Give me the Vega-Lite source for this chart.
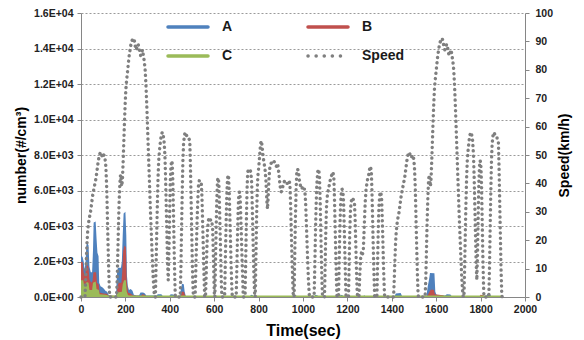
{
  "$schema": "https://vega.github.io/schema/vega-lite/v6.json",
  "width": 444,
  "height": 284,
  "autosize": {"type": "none"},
  "padding": {"left": 81, "top": 13, "right": 59, "bottom": 43},
  "background": "white",
  "config": {
    "view": {"stroke": null},
    "axis": {
      "domainColor": "#868686", "tickColor": "#868686", "tickSize": 4, "domainWidth": 1,
      "labelFont": "Liberation Sans", "labelFontSize": 10.5, "labelFontWeight": "bold", "labelColor": "#222222",
      "titleFont": "Liberation Sans", "titleFontWeight": "bold", "titleColor": "#000000", "titleFontSize": 14,
      "gridColor": "#9a9a9a", "gridDash": [2, 2], "gridWidth": 1, "labelOverlap": false
    }
  },
  "datasets": {
    "particles": [
      {"t":0,"s":"A","n":2300},{"t":7,"s":"A","n":2270},{"t":12,"s":"A","n":2000},{"t":16,"s":"A","n":1550},{"t":20,"s":"A","n":1900},{"t":24,"s":"A","n":2900},{"t":29,"s":"A","n":3050},{"t":34,"s":"A","n":2900},{"t":38,"s":"A","n":1700},{"t":44,"s":"A","n":1400},{"t":50,"s":"A","n":1400},{"t":54,"s":"A","n":2600},{"t":57,"s":"A","n":4200},{"t":66,"s":"A","n":4250},{"t":70,"s":"A","n":3300},{"t":74,"s":"A","n":2500},{"t":79,"s":"A","n":2300},{"t":82,"s":"A","n":800},{"t":88,"s":"A","n":600},{"t":96,"s":"A","n":550},{"t":104,"s":"A","n":450},{"t":110,"s":"A","n":350},{"t":118,"s":"A","n":300},{"t":124,"s":"A","n":120},{"t":132,"s":"A","n":80},{"t":150,"s":"A","n":60},{"t":158,"s":"A","n":80},{"t":162,"s":"A","n":1300},{"t":166,"s":"A","n":1650},{"t":180,"s":"A","n":1650},{"t":184,"s":"A","n":2000},{"t":188,"s":"A","n":3500},{"t":192,"s":"A","n":4700},{"t":200,"s":"A","n":4800},{"t":204,"s":"A","n":3500},{"t":207,"s":"A","n":1200},{"t":211,"s":"A","n":600},{"t":216,"s":"A","n":400},{"t":224,"s":"A","n":450},{"t":232,"s":"A","n":350},{"t":238,"s":"A","n":120},{"t":250,"s":"A","n":80},{"t":262,"s":"A","n":100},{"t":268,"s":"A","n":250},{"t":280,"s":"A","n":260},{"t":288,"s":"A","n":200},{"t":294,"s":"A","n":80},{"t":340,"s":"A","n":80},{"t":346,"s":"A","n":150},{"t":362,"s":"A","n":150},{"t":368,"s":"A","n":60},{"t":398,"s":"A","n":60},{"t":404,"s":"A","n":150},{"t":416,"s":"A","n":140},{"t":424,"s":"A","n":60},{"t":446,"s":"A","n":60},{"t":450,"s":"A","n":450},{"t":455,"s":"A","n":750},{"t":463,"s":"A","n":720},{"t":467,"s":"A","n":300},{"t":472,"s":"A","n":60},{"t":510,"s":"A","n":30},{"t":760,"s":"A","n":30},{"t":766,"s":"A","n":120},{"t":774,"s":"A","n":100},{"t":780,"s":"A","n":30},{"t":950,"s":"A","n":30},{"t":956,"s":"A","n":120},{"t":968,"s":"A","n":100},{"t":974,"s":"A","n":30},{"t":1050,"s":"A","n":30},{"t":1056,"s":"A","n":120},{"t":1066,"s":"A","n":80},{"t":1072,"s":"A","n":30},{"t":1165,"s":"A","n":30},{"t":1170,"s":"A","n":120},{"t":1178,"s":"A","n":100},{"t":1184,"s":"A","n":30},{"t":1270,"s":"A","n":30},{"t":1276,"s":"A","n":100},{"t":1282,"s":"A","n":30},{"t":1412,"s":"A","n":30},{"t":1418,"s":"A","n":200},{"t":1440,"s":"A","n":220},{"t":1446,"s":"A","n":60},{"t":1556,"s":"A","n":60},{"t":1562,"s":"A","n":600},{"t":1568,"s":"A","n":1000},{"t":1572,"s":"A","n":1350},{"t":1592,"s":"A","n":1340},{"t":1596,"s":"A","n":300},{"t":1602,"s":"A","n":100},{"t":1640,"s":"A","n":80},{"t":1648,"s":"A","n":150},{"t":1664,"s":"A","n":140},{"t":1670,"s":"A","n":40},{"t":1825,"s":"A","n":40},{"t":1830,"s":"A","n":170},{"t":1842,"s":"A","n":150},{"t":1848,"s":"A","n":40},{"t":1900,"s":"A","n":30},
      {"t":0,"s":"B","n":2000},{"t":8,"s":"B","n":1950},{"t":12,"s":"B","n":1400},{"t":18,"s":"B","n":1150},{"t":22,"s":"B","n":1500},{"t":26,"s":"B","n":1800},{"t":33,"s":"B","n":1750},{"t":38,"s":"B","n":1000},{"t":46,"s":"B","n":800},{"t":52,"s":"B","n":900},{"t":56,"s":"B","n":1400},{"t":68,"s":"B","n":1400},{"t":72,"s":"B","n":800},{"t":80,"s":"B","n":700},{"t":84,"s":"B","n":250},{"t":100,"s":"B","n":200},{"t":116,"s":"B","n":180},{"t":124,"s":"B","n":80},{"t":160,"s":"B","n":60},{"t":164,"s":"B","n":600},{"t":170,"s":"B","n":800},{"t":182,"s":"B","n":800},{"t":186,"s":"B","n":1500},{"t":190,"s":"B","n":2600},{"t":196,"s":"B","n":2900},{"t":202,"s":"B","n":2800},{"t":206,"s":"B","n":900},{"t":212,"s":"B","n":250},{"t":222,"s":"B","n":200},{"t":236,"s":"B","n":80},{"t":270,"s":"B","n":60},{"t":276,"s":"B","n":150},{"t":286,"s":"B","n":120},{"t":292,"s":"B","n":50},{"t":450,"s":"B","n":50},{"t":454,"s":"B","n":300},{"t":464,"s":"B","n":300},{"t":470,"s":"B","n":50},{"t":1560,"s":"B","n":50},{"t":1572,"s":"B","n":350},{"t":1578,"s":"B","n":420},{"t":1590,"s":"B","n":400},{"t":1594,"s":"B","n":150},{"t":1630,"s":"B","n":100},{"t":1640,"s":"B","n":40},{"t":1795,"s":"B","n":40},{"t":1800,"s":"B","n":120},{"t":1812,"s":"B","n":100},{"t":1818,"s":"B","n":40},{"t":1900,"s":"B","n":30},
      {"t":0,"s":"C","n":950},{"t":10,"s":"C","n":950},{"t":14,"s":"C","n":650},{"t":20,"s":"C","n":700},{"t":26,"s":"C","n":850},{"t":34,"s":"C","n":800},{"t":38,"s":"C","n":400},{"t":50,"s":"C","n":400},{"t":54,"s":"C","n":800},{"t":66,"s":"C","n":870},{"t":70,"s":"C","n":450},{"t":80,"s":"C","n":400},{"t":84,"s":"C","n":150},{"t":110,"s":"C","n":120},{"t":124,"s":"C","n":80},{"t":160,"s":"C","n":80},{"t":164,"s":"C","n":250},{"t":184,"s":"C","n":300},{"t":188,"s":"C","n":700},{"t":194,"s":"C","n":950},{"t":202,"s":"C","n":950},{"t":206,"s":"C","n":300},{"t":212,"s":"C","n":100},{"t":220,"s":"C","n":80},{"t":1900,"s":"C","n":80}
    ],
    "speed": [
      {"t":0,"v":0},{"t":18,"v":0},{"t":21,"v":6},{"t":24,"v":13},{"t":27,"v":19},{"t":30,"v":23},{"t":34,"v":26},{"t":38,"v":28},{"t":43,"v":30},{"t":48,"v":33},{"t":53,"v":36},{"t":58,"v":38},{"t":63,"v":40},{"t":68,"v":42},{"t":73,"v":45},{"t":78,"v":48},{"t":83,"v":50},{"t":88,"v":51},{"t":93,"v":50},{"t":98,"v":49},{"t":103,"v":50},{"t":108,"v":49},{"t":112,"v":46},{"t":116,"v":38},{"t":119,"v":28},{"t":122,"v":18},{"t":125,"v":9},{"t":128,"v":2},{"t":130,"v":0},
      {"t":160,"v":0},{"t":163,"v":6},{"t":166,"v":16},{"t":169,"v":26},{"t":172,"v":34},{"t":175,"v":40},{"t":178,"v":43},{"t":181,"v":41},{"t":184,"v":39},{"t":187,"v":42},{"t":190,"v":48},{"t":193,"v":55},{"t":196,"v":62},{"t":199,"v":68},{"t":202,"v":73},{"t":205,"v":76},{"t":209,"v":79},{"t":213,"v":82},{"t":217,"v":85},{"t":221,"v":87},{"t":225,"v":89},{"t":229,"v":90},{"t":233,"v":91},{"t":237,"v":91},{"t":241,"v":90},{"t":245,"v":88},{"t":249,"v":87},{"t":253,"v":88},{"t":257,"v":89},{"t":261,"v":88},{"t":265,"v":86},{"t":269,"v":85},{"t":273,"v":86},{"t":277,"v":87},{"t":281,"v":85},{"t":285,"v":83},{"t":289,"v":80},{"t":293,"v":74},{"t":297,"v":66},{"t":301,"v":57},{"t":305,"v":48},{"t":309,"v":39},{"t":313,"v":30},{"t":317,"v":22},{"t":321,"v":14},{"t":325,"v":7},{"t":329,"v":2},{"t":332,"v":0},
      {"t":335,"v":0},{"t":338,"v":10},{"t":341,"v":22},{"t":344,"v":33},{"t":347,"v":42},{"t":350,"v":48},{"t":354,"v":52},{"t":358,"v":55},{"t":362,"v":57},{"t":366,"v":58},{"t":370,"v":57},{"t":374,"v":55},{"t":378,"v":50},{"t":381,"v":42},{"t":384,"v":32},{"t":387,"v":22},{"t":390,"v":12},{"t":393,"v":6},{"t":396,"v":15},{"t":399,"v":28},{"t":402,"v":40},{"t":405,"v":46},{"t":408,"v":48},{"t":411,"v":47},{"t":414,"v":40},{"t":417,"v":28},{"t":420,"v":15},{"t":423,"v":5},{"t":425,"v":0},
      {"t":447,"v":0},{"t":450,"v":10},{"t":453,"v":24},{"t":456,"v":37},{"t":459,"v":48},{"t":462,"v":54},{"t":466,"v":57},{"t":470,"v":58},{"t":475,"v":57},{"t":480,"v":56},{"t":485,"v":56},{"t":490,"v":55},{"t":493,"v":46},{"t":496,"v":34},{"t":499,"v":22},{"t":502,"v":10},{"t":505,"v":2},{"t":507,"v":0},
      {"t":514,"v":0},{"t":517,"v":9},{"t":520,"v":18},{"t":523,"v":27},{"t":526,"v":34},{"t":529,"v":39},{"t":533,"v":41},{"t":538,"v":41},{"t":542,"v":40},{"t":545,"v":35},{"t":548,"v":26},{"t":551,"v":17},{"t":554,"v":8},{"t":557,"v":0},
      {"t":561,"v":0},{"t":564,"v":8},{"t":567,"v":17},{"t":570,"v":24},{"t":574,"v":27},{"t":579,"v":28},{"t":584,"v":27},{"t":589,"v":27},{"t":593,"v":24},{"t":596,"v":15},{"t":599,"v":6},{"t":601,"v":0},
      {"t":603,"v":0},{"t":606,"v":12},{"t":609,"v":25},{"t":612,"v":35},{"t":615,"v":41},{"t":618,"v":42},{"t":621,"v":40},{"t":624,"v":32},{"t":627,"v":22},{"t":630,"v":12},{"t":633,"v":3},{"t":635,"v":0},
      {"t":647,"v":0},{"t":650,"v":12},{"t":653,"v":24},{"t":656,"v":34},{"t":659,"v":40},{"t":662,"v":43},{"t":665,"v":42},{"t":668,"v":36},{"t":671,"v":27},{"t":674,"v":18},{"t":677,"v":9},{"t":680,"v":2},{"t":682,"v":0},
      {"t":699,"v":0},{"t":702,"v":10},{"t":705,"v":22},{"t":708,"v":31},{"t":711,"v":36},{"t":714,"v":37},{"t":717,"v":35},{"t":720,"v":28},{"t":723,"v":20},{"t":726,"v":12},{"t":729,"v":5},{"t":731,"v":0},
      {"t":739,"v":0},{"t":742,"v":13},{"t":745,"v":27},{"t":748,"v":38},{"t":751,"v":44},{"t":755,"v":45},{"t":760,"v":45},{"t":765,"v":44},{"t":769,"v":40},{"t":772,"v":30},{"t":775,"v":20},{"t":778,"v":10},{"t":781,"v":3},{"t":783,"v":0},
      {"t":785,"v":0},{"t":788,"v":14},{"t":791,"v":28},{"t":794,"v":38},{"t":797,"v":43},{"t":801,"v":46},{"t":805,"v":50},{"t":809,"v":54},{"t":813,"v":55},{"t":817,"v":52},{"t":821,"v":49},{"t":825,"v":47},{"t":829,"v":45},{"t":833,"v":41},{"t":837,"v":34},{"t":840,"v":31},{"t":843,"v":35},{"t":847,"v":42},{"t":851,"v":46},{"t":856,"v":47},{"t":862,"v":48},{"t":868,"v":48},{"t":874,"v":47},{"t":880,"v":46},{"t":886,"v":47},{"t":892,"v":43},{"t":897,"v":39},{"t":902,"v":37},{"t":907,"v":38},{"t":912,"v":40},{"t":918,"v":41},{"t":924,"v":40},{"t":930,"v":40},{"t":936,"v":41},{"t":941,"v":40},{"t":944,"v":33},{"t":947,"v":24},{"t":950,"v":15},{"t":953,"v":7},{"t":956,"v":1},{"t":958,"v":0},
      {"t":960,"v":0},{"t":963,"v":15},{"t":966,"v":28},{"t":969,"v":38},{"t":972,"v":44},{"t":976,"v":45},{"t":980,"v":44},{"t":984,"v":41},{"t":989,"v":39},{"t":994,"v":38},{"t":999,"v":39},{"t":1004,"v":38},{"t":1008,"v":38},{"t":1012,"v":33},{"t":1016,"v":24},{"t":1020,"v":15},{"t":1024,"v":7},{"t":1028,"v":1},{"t":1030,"v":0},
      {"t":1050,"v":0},{"t":1053,"v":10},{"t":1056,"v":22},{"t":1059,"v":32},{"t":1062,"v":39},{"t":1066,"v":44},{"t":1070,"v":45},{"t":1074,"v":43},{"t":1077,"v":35},{"t":1080,"v":24},{"t":1083,"v":13},{"t":1086,"v":4},{"t":1088,"v":0},
      {"t":1097,"v":0},{"t":1100,"v":12},{"t":1103,"v":24},{"t":1106,"v":32},{"t":1110,"v":36},{"t":1115,"v":38},{"t":1120,"v":40},{"t":1125,"v":42},{"t":1130,"v":43},{"t":1135,"v":44},{"t":1139,"v":42},{"t":1142,"v":34},{"t":1145,"v":24},{"t":1148,"v":14},{"t":1151,"v":5},{"t":1153,"v":0},
      {"t":1160,"v":0},{"t":1163,"v":12},{"t":1166,"v":24},{"t":1169,"v":32},{"t":1172,"v":36},{"t":1176,"v":38},{"t":1180,"v":37},{"t":1183,"v":33},{"t":1186,"v":24},{"t":1189,"v":14},{"t":1192,"v":5},{"t":1194,"v":0},
      {"t":1205,"v":0},{"t":1208,"v":12},{"t":1211,"v":24},{"t":1214,"v":31},{"t":1218,"v":34},{"t":1223,"v":35},{"t":1228,"v":34},{"t":1232,"v":33},{"t":1235,"v":27},{"t":1238,"v":18},{"t":1241,"v":9},{"t":1244,"v":2},{"t":1246,"v":0},
      {"t":1252,"v":0},{"t":1256,"v":8},{"t":1260,"v":14},{"t":1264,"v":16},{"t":1268,"v":15},{"t":1272,"v":17},{"t":1276,"v":25},{"t":1280,"v":33},{"t":1284,"v":38},{"t":1288,"v":40},{"t":1292,"v":42},{"t":1296,"v":43},{"t":1300,"v":45},{"t":1304,"v":46},{"t":1308,"v":44},{"t":1311,"v":36},{"t":1314,"v":26},{"t":1317,"v":16},{"t":1320,"v":7},{"t":1323,"v":0},
      {"t":1333,"v":0},{"t":1336,"v":12},{"t":1339,"v":24},{"t":1342,"v":32},{"t":1346,"v":36},{"t":1350,"v":37},{"t":1354,"v":35},{"t":1357,"v":28},{"t":1360,"v":19},{"t":1363,"v":10},{"t":1366,"v":3},{"t":1368,"v":0},
      {"t":1408,"v":0},{"t":1411,"v":6},{"t":1414,"v":13},{"t":1417,"v":19},{"t":1420,"v":23},{"t":1424,"v":26},{"t":1428,"v":28},{"t":1433,"v":30},{"t":1438,"v":33},{"t":1443,"v":36},{"t":1448,"v":38},{"t":1453,"v":40},{"t":1458,"v":42},{"t":1463,"v":45},{"t":1468,"v":48},{"t":1473,"v":50},{"t":1478,"v":51},{"t":1483,"v":50},{"t":1488,"v":49},{"t":1493,"v":50},{"t":1498,"v":49},{"t":1502,"v":46},{"t":1506,"v":38},{"t":1509,"v":28},{"t":1512,"v":18},{"t":1515,"v":9},{"t":1518,"v":2},{"t":1520,"v":0},
      {"t":1550,"v":0},{"t":1553,"v":6},{"t":1556,"v":16},{"t":1559,"v":26},{"t":1562,"v":34},{"t":1565,"v":40},{"t":1568,"v":43},{"t":1571,"v":41},{"t":1574,"v":39},{"t":1577,"v":42},{"t":1580,"v":48},{"t":1583,"v":55},{"t":1586,"v":62},{"t":1589,"v":68},{"t":1592,"v":73},{"t":1595,"v":76},{"t":1599,"v":79},{"t":1603,"v":82},{"t":1607,"v":85},{"t":1611,"v":87},{"t":1615,"v":89},{"t":1619,"v":90},{"t":1623,"v":91},{"t":1627,"v":91},{"t":1631,"v":90},{"t":1635,"v":88},{"t":1639,"v":87},{"t":1643,"v":88},{"t":1647,"v":89},{"t":1651,"v":88},{"t":1655,"v":86},{"t":1659,"v":85},{"t":1663,"v":86},{"t":1667,"v":87},{"t":1671,"v":85},{"t":1675,"v":83},{"t":1679,"v":80},{"t":1683,"v":74},{"t":1687,"v":66},{"t":1691,"v":57},{"t":1695,"v":48},{"t":1699,"v":39},{"t":1703,"v":30},{"t":1707,"v":22},{"t":1711,"v":14},{"t":1715,"v":7},{"t":1719,"v":2},{"t":1722,"v":0},
      {"t":1725,"v":0},{"t":1728,"v":10},{"t":1731,"v":22},{"t":1734,"v":33},{"t":1737,"v":42},{"t":1740,"v":48},{"t":1744,"v":52},{"t":1748,"v":55},{"t":1752,"v":57},{"t":1756,"v":58},{"t":1760,"v":57},{"t":1764,"v":55},{"t":1768,"v":50},{"t":1771,"v":42},{"t":1774,"v":32},{"t":1777,"v":22},{"t":1780,"v":12},{"t":1783,"v":6},{"t":1786,"v":15},{"t":1789,"v":28},{"t":1792,"v":40},{"t":1795,"v":46},{"t":1798,"v":48},{"t":1801,"v":47},{"t":1804,"v":40},{"t":1807,"v":28},{"t":1810,"v":15},{"t":1813,"v":5},{"t":1815,"v":0},
      {"t":1837,"v":0},{"t":1840,"v":10},{"t":1843,"v":24},{"t":1846,"v":37},{"t":1849,"v":48},{"t":1852,"v":54},{"t":1856,"v":57},{"t":1860,"v":58},{"t":1865,"v":57},{"t":1870,"v":56},{"t":1875,"v":56},{"t":1880,"v":55},{"t":1883,"v":46},{"t":1886,"v":34},{"t":1889,"v":22},{"t":1892,"v":10},{"t":1895,"v":2},{"t":1897,"v":0}
    ]
  },
  "layer": [
    {
      "data": {"name": "particles"},
      "encoding": {
        "x": {"field": "t", "type": "quantitative", "scale": {"domain": [0, 2000], "nice": false},
              "axis": {"values": [0,200,400,600,800,1000,1200,1400,1600,1800,2000], "format": "d", "title": "Time(sec)", "titleFontSize": 16, "grid": false, "labelFlush": false, "labelPadding": 3, "titlePadding": 8}},
        "y": {"field": "n", "type": "quantitative", "scale": {"domain": [0, 16000], "nice": false},
              "axis": {"values": [0,2000,4000,6000,8000,10000,12000,14000,16000], "labelExpr": "replace(upper(format(datum.value, '.1e')), 'E+', 'E+0')", "title": "number(#/cm³)", "grid": true, "labelPadding": 4, "titlePadding": 5}},
        "color": {"field": "s", "type": "nominal",
                  "scale": {"domain": ["A", "C", "B", "Speed"], "range": ["#4F81BD", "#9BBB59", "#C0504D", "#7f7f7f"]},
                  "legend": {
                    "title": null, "orient": "none", "legendX": 85, "legendY": -8, "columns": 2,
                    "symbolType": "stroke", "symbolSize": 1600, "symbolStrokeWidth": 3.5, "symbolOpacity": 1,
                    "labelFont": "Liberation Sans", "labelFontSize": 14, "labelFontWeight": "bold", "labelColor": "#1a1a1a",
                    "labelOffset": 12, "columnPadding": 68, "rowPadding": -17, "padding": 0,
                    "encode": {"symbols": {"update": {
                      "stroke": {"scale": "color", "field": "value"},
                      "fill": {"value": "transparent"},
                      "strokeCap": {"value": "round"},
                      "strokeDash": [{"test": "datum.value === 'Speed'", "value": [0.1, 8]}, {"value": [1, 0]}]
                    }}}
                  }}
      },
      "layer": [
        {"transform": [{"filter": "datum.s === 'A'"}], "mark": {"type": "area", "opacity": 1}},
        {"transform": [{"filter": "datum.s === 'B'"}], "mark": {"type": "area", "opacity": 1}},
        {"transform": [{"filter": "datum.s === 'C'"}], "mark": {"type": "area", "opacity": 1}}
      ]
    },
    {
      "data": {"name": "speed"},
      "mark": {"type": "line", "strokeWidth": 3.4, "strokeDash": [0.1, 5.2], "strokeCap": "round"},
      "encoding": {
        "x": {"field": "t", "type": "quantitative"},
        "y": {"field": "v", "type": "quantitative", "scale": {"domain": [0, 100], "nice": false},
              "axis": {"orient": "right", "values": [0,10,20,30,40,50,60,70,80,90,100], "title": "Speed(km/h)", "titleAngle": 270, "titleBaseline": "top", "grid": false, "labelPadding": 6, "titlePadding": 5}},
        "color": {"datum": "Speed", "type": "nominal"}
      }
    }
  ],
  "resolve": {"scale": {"y": "independent"}}
}
